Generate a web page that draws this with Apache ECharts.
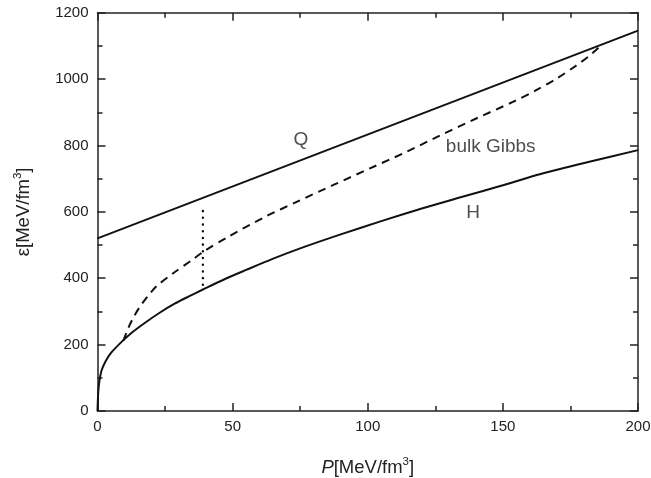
<!DOCTYPE html>
<html>
<head>
<meta charset="utf-8">
<script src="https://cdn.jsdelivr.net/npm/echarts@6/dist/echarts.min.js"></script>
<style>html,body{margin:0;padding:0;background:#fff}#c{width:651px;height:478px}</style>
</head>
<body>
<div id="c"></div>
<script>
// Q phase (straight line)
const qP = [0, 200];
const qE = [520, 1146];
// H phase
const hP = [0, 0.3, 0.7, 1.5, 3, 5, 9, 13, 17.6, 23, 28.7, 34, 39, 47, 55, 65, 75, 90, 105, 120, 134, 150, 164, 182, 200];
const hE = [0, 60, 90, 122, 150, 175, 209, 238, 266, 296, 324, 346, 366, 397, 425, 459, 490, 532, 572, 610, 643, 680, 714, 751, 786];
// bulk Gibbs (dashed)
const gP = [9.6, 11.4, 13.5, 16, 19, 22, 28, 35, 39.2, 48.4, 62, 74.5, 87.3, 100.8, 114.4, 126.7, 140.3, 153.9, 162, 170, 177, 182, 187];
const gE = [212, 250, 285, 318, 350, 377, 415, 455, 480, 525, 585, 633, 681, 731, 781, 830, 882, 932, 965, 1002, 1040, 1070, 1106];
// dotted vertical line
const dP = [39, 39];
const dE = [380, 615];
// text labels
const labelText = ['Q', 'bulk Gibbs', 'H'];
const labelP = [75.3, 145.5, 139];
const labelE = [816, 796, 597];

const zip = (a, b) => a.map((v, i) => [v, b[i]]);
const font = 'Liberation Sans, Arial, sans-serif';
const axCol = '#222';

const chart = echarts.init(document.getElementById('c'));
const commonX = {
  type: 'value', min: 0, max: 200, interval: 50,
  axisLine: { show: true, onZero: false, lineStyle: { color: axCol, width: 1.5 } },
  axisTick: { show: true, inside: true, length: 8, lineStyle: { color: axCol, width: 1.5 } },
  minorTick: { show: true, splitNumber: 2, length: 5, lineStyle: { color: axCol, width: 1.5 } },
  splitLine: { show: false }
};
const commonY = {
  type: 'value', min: 0, max: 1200, interval: 200,
  axisLine: { show: true, onZero: false, lineStyle: { color: axCol, width: 1.5 } },
  axisTick: { show: true, inside: true, length: 8, lineStyle: { color: axCol, width: 1.5 } },
  minorTick: { show: true, splitNumber: 2, length: 5, lineStyle: { color: axCol, width: 1.5 } },
  splitLine: { show: false }
};
chart.setOption({
  animation: false,
  backgroundColor: '#fff',
  grid: { left: 97.5, right: 13, top: 12.7, bottom: 67, containLabel: false, outerBoundsMode: 'none' },
  xAxis: [
    Object.assign({}, commonX, {
      position: 'bottom',
      axisLabel: { color: axCol, fontSize: 15, fontFamily: font, margin: 8, formatter: v => String(v) },
      name: '{i|P}[MeV/fm{s|3}]',
      nameLocation: 'middle', nameGap: 45,
      nameTextStyle: {
        color: axCol, fontSize: 18.5, fontFamily: font,
        rich: {
          i: { fontStyle: 'italic', fontSize: 18.5, fontFamily: font, color: axCol },
          s: { fontSize: 11.5, verticalAlign: 'top', lineHeight: 24, fontFamily: font, color: axCol }
        }
      }
    }),
    Object.assign({}, commonX, { position: 'top', axisLabel: { show: false } })
  ],
  yAxis: [
    Object.assign({}, commonY, {
      position: 'left',
      axisLabel: { color: axCol, fontSize: 15, fontFamily: font, margin: 9, formatter: v => String(v) },
      name: 'ε[MeV/fm{s|3}]',
      nameLocation: 'middle', nameGap: 62, nameRotate: 90,
      nameTextStyle: {
        color: axCol, fontSize: 18.5, fontFamily: font,
        rich: {
          s: { fontSize: 11.5, verticalAlign: 'top', lineHeight: 24, fontFamily: font, color: axCol }
        }
      }
    }),
    Object.assign({}, commonY, { position: 'right', axisLabel: { show: false } })
  ],
  series: [
    { type: 'line', data: zip(qP, qE), symbol: 'none', lineStyle: { color: '#111', width: 2 } },
    { type: 'line', data: zip(hP, hE), symbol: 'none', smooth: 0.3, lineStyle: { color: '#111', width: 2 } },
    { type: 'line', data: zip(gP, gE), symbol: 'none', smooth: 0.3, lineStyle: { color: '#111', width: 2, type: [8, 6] } },
    { type: 'line', data: zip(dP, dE), symbol: 'none', lineStyle: { color: '#111', width: 2.4, type: [0.1, 6.6], cap: 'round' } },
    {
      type: 'scatter', data: labelP.map((p, i) => ({ value: [p, labelE[i]], name: labelText[i] })),
      symbolSize: 0, silent: true,
      label: { show: true, position: 'inside', formatter: '{b}', color: axCol, fontSize: 19, fontFamily: font }
    }
  ]
});
</script>
</body>
</html>
